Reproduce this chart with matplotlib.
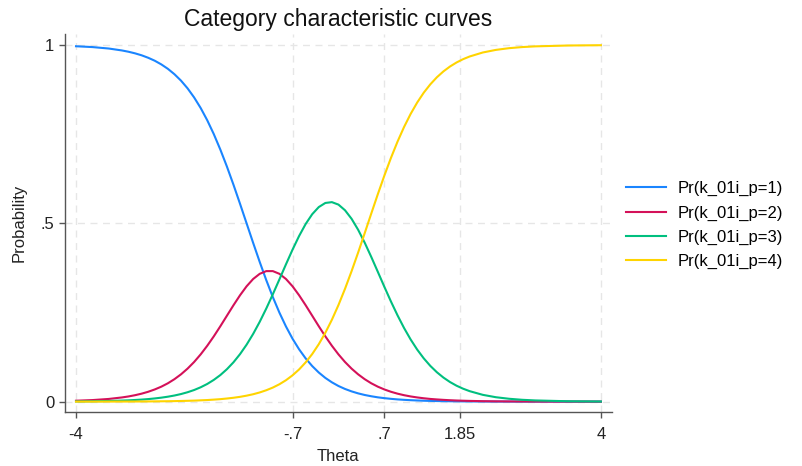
import matplotlib
matplotlib.use("Agg")
import matplotlib.pyplot as plt

# theta grid and category probabilities for item k_01i_p
theta = [-4, -3.75, -3.5, -3.3, -3.2, -3.1, -3.0, -2.9, -2.8, -2.7, -2.6,
         -2.5, -2.4, -2.3, -2.2, -2.1, -2.0, -1.9, -1.8, -1.7, -1.6,
         -1.5, -1.4, -1.3, -1.2, -1.1, -1.0, -0.9, -0.8, -0.7, -0.6,
         -0.5, -0.4, -0.3, -0.2, -0.1, 0.0, 0.1, 0.2, 0.3, 0.4,
         0.5, 0.6, 0.7, 0.8, 0.9, 1.0, 1.1, 1.2, 1.3, 1.4, 1.5,
         1.6, 1.7, 1.8, 1.9, 2.0, 2.2, 2.4, 2.6, 2.8, 3.0, 3.5, 4]

p1 = [0.9967, 0.9944, 0.9903, 0.9849, 0.9813, 0.9768, 0.9713, 0.9644, 0.9561, 0.9458, 0.9334,
      0.9183, 0.9003, 0.8787, 0.8532, 0.8235, 0.7892, 0.7503, 0.7068, 0.6593, 0.6083,
      0.5548, 0.5000, 0.4452, 0.3917, 0.3407, 0.2932, 0.2497, 0.2108, 0.1765, 0.1468,
      0.1213, 0.0998, 0.0817, 0.0666, 0.0542, 0.0439, 0.0356, 0.0288, 0.0232, 0.0187,
      0.0151, 0.0121, 0.0098, 0.0079, 0.0063, 0.0051, 0.0041, 0.0033, 0.0026, 0.0021, 0.0017,
      0.0014, 0.0011, 0.0009, 0.0007, 0.0006, 0.0004, 0.0002, 0.0002, 0.0001, 0.0001, 0.0000, 0.0000]

p2 = [0.0026, 0.0044, 0.0076, 0.0118, 0.0146, 0.0181, 0.0224, 0.0277, 0.0342, 0.0420, 0.0515,
      0.0630, 0.0766, 0.0926, 0.1112, 0.1326, 0.1567, 0.1831, 0.2115, 0.2410, 0.2704,
      0.2984, 0.3235, 0.3440, 0.3585, 0.3661, 0.3661, 0.3585, 0.3440, 0.3235, 0.2984,
      0.2704, 0.2410, 0.2115, 0.1831, 0.1567, 0.1326, 0.1112, 0.0926, 0.0766, 0.0630,
      0.0515, 0.0420, 0.0342, 0.0277, 0.0224, 0.0181, 0.0146, 0.0118, 0.0095, 0.0076, 0.0062,
      0.0050, 0.0040, 0.0032, 0.0026, 0.0021, 0.0013, 0.0009, 0.0006, 0.0004, 0.0002, 0.0001, 0.0000]

p3 = [0.0006, 0.0011, 0.0019, 0.0030, 0.0037, 0.0047, 0.0058, 0.0072, 0.0090, 0.0112, 0.0139,
      0.0172, 0.0213, 0.0264, 0.0326, 0.0403, 0.0496, 0.0610, 0.0746, 0.0910, 0.1104,
      0.1333, 0.1598, 0.1900, 0.2239, 0.2612, 0.3012, 0.3429, 0.3851, 0.4262, 0.4645,
      0.4982, 0.5257, 0.5457, 0.5572, 0.5595, 0.5526, 0.5367, 0.5128, 0.4820, 0.4458,
      0.4059, 0.3641, 0.3219, 0.2809, 0.2422, 0.2065, 0.1744, 0.1460, 0.1214, 0.1003, 0.0825,
      0.0675, 0.0550, 0.0447, 0.0363, 0.0294, 0.0191, 0.0124, 0.0081, 0.0052, 0.0034, 0.0011, 0.0004]

p4 = [0.0001, 0.0001, 0.0002, 0.0003, 0.0003, 0.0004, 0.0005, 0.0006, 0.0008, 0.0010, 0.0012,
      0.0015, 0.0019, 0.0024, 0.0029, 0.0037, 0.0045, 0.0057, 0.0070, 0.0088, 0.0109,
      0.0135, 0.0168, 0.0208, 0.0258, 0.0320, 0.0395, 0.0488, 0.0601, 0.0738, 0.0903,
      0.1101, 0.1335, 0.1611, 0.1931, 0.2297, 0.2709, 0.3165, 0.3659, 0.4182, 0.4725,
      0.5275, 0.5818, 0.6341, 0.6835, 0.7291, 0.7703, 0.8069, 0.8389, 0.8665, 0.8899, 0.9097,
      0.9262, 0.9399, 0.9512, 0.9605, 0.9680, 0.9792, 0.9865, 0.9913, 0.9944, 0.9964, 0.9988, 0.9996]

labels = ["Pr(k_01i_p=1)", "Pr(k_01i_p=2)", "Pr(k_01i_p=3)", "Pr(k_01i_p=4)"]
colors = ["#1a85ff", "#d41159", "#00bf7f", "#ffd400"]

xticks = [-4, -0.7, 0.7, 1.85, 4]
xticklabels = ["-4", "-.7", ".7", "1.85", "4"]
yticks = [0, 0.5, 1]
yticklabels = ["0", ".5", "1"]


def create_graph():
    """
    - Args:
    - Returns:
    """
    plt.rcParams['font.family'] = ['Liberation Sans', 'DejaVu Sans']
    fig = plt.figure(figsize=(8.02, 4.66), dpi=100)
    ax = fig.add_axes([0.0807, 0.1159, 0.6823, 0.8111])

    for y, lab, col in zip([p1, p2, p3, p4], labels, colors):
        ax.plot(theta, y, color=col, lw=1.5, label=lab)

    ax.set_xlim(-4.172, 4.168)
    ax.set_ylim(-0.029, 1.031)
    ax.set_xticks(xticks)
    ax.set_xticklabels(xticklabels)
    ax.set_yticks(yticks)
    ax.set_yticklabels(yticklabels)

    ax.grid(True, color="#e6e6e6", lw=1.0, linestyle=(0, (5, 4)))
    ax.set_axisbelow(True)
    for s in ["top", "right"]:
        ax.spines[s].set_visible(False)
    for s in ["left", "bottom"]:
        ax.spines[s].set_color("#555555")
        ax.spines[s].set_linewidth(1.0)
    ax.tick_params(axis="both", direction="out", length=4.5, width=1.0,
                   color="#555555", labelsize=12, labelcolor="#222222")
    ax.tick_params(axis="x", pad=6)
    ax.tick_params(axis="y", pad=3)

    ax.set_xlabel("Theta", fontsize=12, color="#222222", labelpad=5)
    ax.set_ylabel("Probability", fontsize=12, color="#222222", labelpad=10)
    ax.set_title("Category characteristic curves", fontsize=16.5, color="#111111", pad=6)

    ax.legend(loc="upper left", bbox_to_anchor=(0.781, 0.611), bbox_transform=fig.transFigure,
              frameon=False, fontsize=12, handlelength=2.4, handletextpad=0.65,
              labelspacing=0.55, borderaxespad=0, borderpad=0)

    fig.savefig("out.png", dpi=100)


def main():
    """
    - Args:
    - Returns:
    """
    create_graph()


if __name__ == '__main__':
    main()
